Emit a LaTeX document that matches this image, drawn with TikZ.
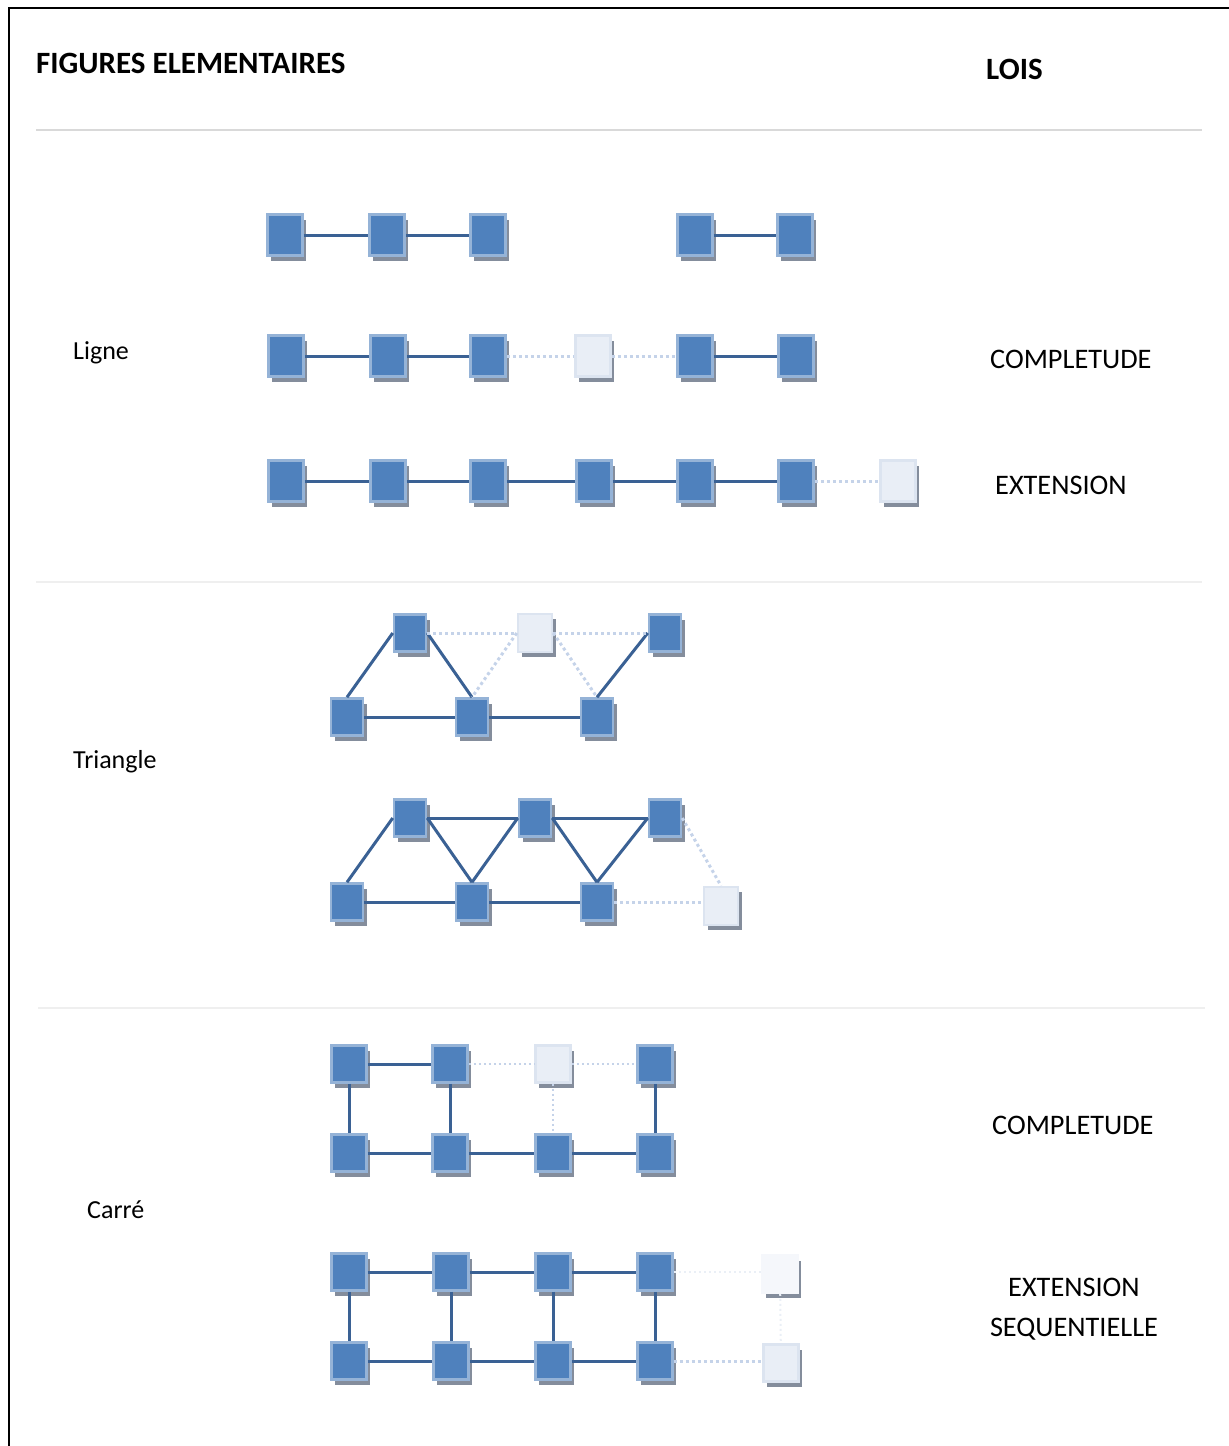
\documentclass[tikz,border=0pt]{standalone}
\usepackage{fontspec}
\setmainfont{Carlito}
\usetikzlibrary{shadows}
\definecolor{boxblue}{HTML}{4F81BD}
\definecolor{boxrim}{HTML}{95B3D7}
\definecolor{ghostfill}{HTML}{E9EEF6}
\definecolor{ghostrim}{HTML}{DCE4F0}
\definecolor{palefill}{HTML}{F5F7FB}
\definecolor{linkblue}{HTML}{3A6194}
\definecolor{dotblue}{HTML}{C5D3E9}
\definecolor{palelink}{HTML}{EAEFF6}
\definecolor{shade}{HTML}{848D9C}
\definecolor{rule}{HTML}{D9D9D9}
\definecolor{softrule}{HTML}{EFEFEF}

\tikzset{
  cell/.style={rectangle, inner sep=0pt, line width=2.5pt,
    fill=boxblue, draw=boxrim,
    general shadow={fill=shade, shadow xshift=3.5pt, shadow yshift=-5pt}},
  ghost/.style={cell, fill=ghostfill, draw=ghostrim},
  pale/.style={cell, fill=palefill, draw=palefill},
  lcell/.style={minimum width=35pt, minimum height=41pt},
  tcell/.style={minimum width=32pt, minimum height=37pt},
  scell/.style={minimum width=35pt, minimum height=37pt},
  link/.style={draw=linkblue, line width=3pt},
  dlink/.style={draw=dotblue, line width=3pt, dash pattern=on 3pt off 3pt},
  thindots/.style={draw=dotblue, line width=2pt, dash pattern=on 2pt off 3pt},
  plink/.style={draw=palelink, line width=2pt, dash pattern=on 2pt off 3pt},
  label/.style={font=\fontsize{28.3}{40}\selectfont, anchor=west, inner sep=0pt},
  rowname/.style={font=\fontsize{26}{32}\selectfont, anchor=west, inner sep=0pt},
  head/.style={font=\fontsize{31}{36}\selectfont\bfseries, anchor=west, inner sep=0pt},
  sep/.style={line width=2pt}
}

\begin{document}
\begin{tikzpicture}[x=1pt, y=-1pt]
\useasboundingbox (0,0) rectangle (1229,1446);

% outer frame
\draw[line width=2pt] (8.5,1446) -- (8.5,7.5) -- (1229,7.5);

% section rules
\draw[sep, draw=rule] (36,130) -- (1202,130);
\draw[sep, draw=softrule] (36,582) -- (1202,582);
\draw[sep, draw=softrule] (38,1008) -- (1205,1008);

% headings and labels
\node[head] (hfig) at (36,63) {FIGURES ELEMENTAIRES};
\node[head] (hlois) at (986,69) {LOIS};
\node[rowname] (tligne) at (73,353) {Ligne};
\node[label] (tcomp1) at (990,359) {COMPLETUDE};
\node[label] (text1) at (995,485) {EXTENSION};
\node[rowname] (ttri) at (73,762) {Triangle};
\node[rowname] (tcarre) at (87,1210) {Carré};
\node[label] (tcomp2) at (992,1125) {COMPLETUDE};
\node[font=\fontsize{28.3}{40}\selectfont, align=center, inner sep=0pt] (text2) at (1074,1309) {EXTENSION\\SEQUENTIELLE};

% ---- Ligne ----
\node[cell, lcell] (a1) at (285,235) {};
\node[cell, lcell] (a2) at (387,235) {};
\node[cell, lcell] (a3) at (488,235) {};
\node[cell, lcell] (a4) at (695,235) {};
\node[cell, lcell] (a5) at (795,235) {};
\draw[link] (a1) -- (a2);
\draw[link] (a2) -- (a3);
\draw[link] (a4) -- (a5);

\node[cell, lcell] (b1) at (286,356) {};
\node[cell, lcell] (b2) at (388,356) {};
\node[cell, lcell] (b3) at (488,356) {};
\node[ghost, lcell] (b4) at (593,356) {};
\node[cell, lcell] (b5) at (695,356) {};
\node[cell, lcell] (b6) at (796,356) {};
\draw[link] (b1) -- (b2);
\draw[link] (b2) -- (b3);
\draw[dlink] (b3) -- (b4);
\draw[dlink] (b4) -- (b5);
\draw[link] (b5) -- (b6);

\node[cell, lcell] (c1) at (286,481) {};
\node[cell, lcell] (c2) at (388,481) {};
\node[cell, lcell] (c3) at (488,481) {};
\node[cell, lcell] (c4) at (594,481) {};
\node[cell, lcell] (c5) at (695,481) {};
\node[cell, lcell] (c6) at (796,481) {};
\node[ghost, lcell] (c7) at (898,481) {};
\draw[link] (c1) -- (c2);
\draw[link] (c2) -- (c3);
\draw[link] (c3) -- (c4);
\draw[link] (c4) -- (c5);
\draw[link] (c5) -- (c6);
\draw[dlink] (c6) -- (c7);

% ---- Triangle ----
\node[cell, tcell] (d1) at (410,633) {};
\node[ghost, tcell, minimum width=34pt, minimum height=38pt] (d2) at (535,633) {};
\node[cell, tcell] (d3) at (665,633) {};
\node[cell, tcell] (e1) at (347,717) {};
\node[cell, tcell] (e2) at (472,717) {};
\node[cell, tcell] (e3) at (597,717) {};
\draw[link] (d1.west) -- (e1.north);
\draw[link] (d1.east) -- (e2.north);
\draw[link] (e1) -- (e2);
\draw[link] (e2) -- (e3);
\draw[link] (d3.west) -- (e3.north);
\draw[dlink] (d1) -- (d2);
\draw[dlink] (d2) -- (d3);
\draw[dlink] (d2.west) -- (e2.north);
\draw[dlink] (d2.east) -- (e3.north);

\node[cell, tcell] (f1) at (410,818) {};
\node[cell, tcell] (f2) at (535,818) {};
\node[cell, tcell] (f3) at (665,818) {};
\node[cell, tcell] (g1) at (347,902) {};
\node[cell, tcell] (g2) at (472,902) {};
\node[cell, tcell] (g3) at (597,902) {};
\node[ghost, tcell, minimum width=34pt, minimum height=38pt] (g4) at (721,906) {};
\draw[link] (f1.west) -- (g1.north);
\draw[link] (f1.east) -- (g2.north);
\draw[link] (f2.west) -- (g2.north);
\draw[link] (f2.east) -- (g3.north);
\draw[link] (f3.west) -- (g3.north);
\draw[link] (f1) -- (f2);
\draw[link] (f2) -- (f3);
\draw[link] (g1) -- (g2);
\draw[link] (g2) -- (g3);
\draw[dlink] (f3.east) -- (g4.north);
\draw[dlink] (g3.east) -- (g3.east -| g4.west);

% ---- Carré ----
\node[cell, scell] (h1) at (349,1064) {};
\node[cell, scell] (h2) at (450,1064) {};
\node[ghost, scell] (h3) at (553,1064) {};
\node[cell, scell] (h4) at (655,1064) {};
\node[cell, scell] (i1) at (349,1153) {};
\node[cell, scell] (i2) at (450,1153) {};
\node[cell, scell] (i3) at (553,1153) {};
\node[cell, scell] (i4) at (655,1153) {};
\draw[link] (h1) -- (h2);
\draw[thindots] (h2) -- (h3);
\draw[thindots] (h3) -- (h4);
\draw[link] (h1) -- (i1);
\draw[link] (h2) -- (i2);
\draw[thindots] (h3) -- (i3);
\draw[link] (h4) -- (i4);
\draw[link] (i1) -- (i2);
\draw[link] (i2) -- (i3);
\draw[link] (i3) -- (i4);

\node[cell, scell] (j1) at (349,1272) {};
\node[cell, scell] (j2) at (451,1272) {};
\node[cell, scell] (j3) at (553,1272) {};
\node[cell, scell] (j4) at (655,1272) {};
\node[pale, scell] (j5) at (780,1274) {};
\node[cell, scell] (k1) at (349,1361) {};
\node[cell, scell] (k2) at (451,1361) {};
\node[cell, scell] (k3) at (553,1361) {};
\node[cell, scell] (k4) at (655,1361) {};
\node[ghost, scell] (k5) at (781,1363) {};
\draw[link] (j1) -- (j2);
\draw[link] (j2) -- (j3);
\draw[link] (j3) -- (j4);
\draw[link] (k1) -- (k2);
\draw[link] (k2) -- (k3);
\draw[link] (k3) -- (k4);
\draw[link] (j1) -- (k1);
\draw[link] (j2) -- (k2);
\draw[link] (j3) -- (k3);
\draw[link] (j4) -- (k4);
\draw[plink] (j4.east) -- (j4.east -| j5.west);
\draw[plink] (j5) -- (k5);
\draw[dlink] (k4.east) -- (k4.east -| k5.west);
\end{tikzpicture}
\end{document}
